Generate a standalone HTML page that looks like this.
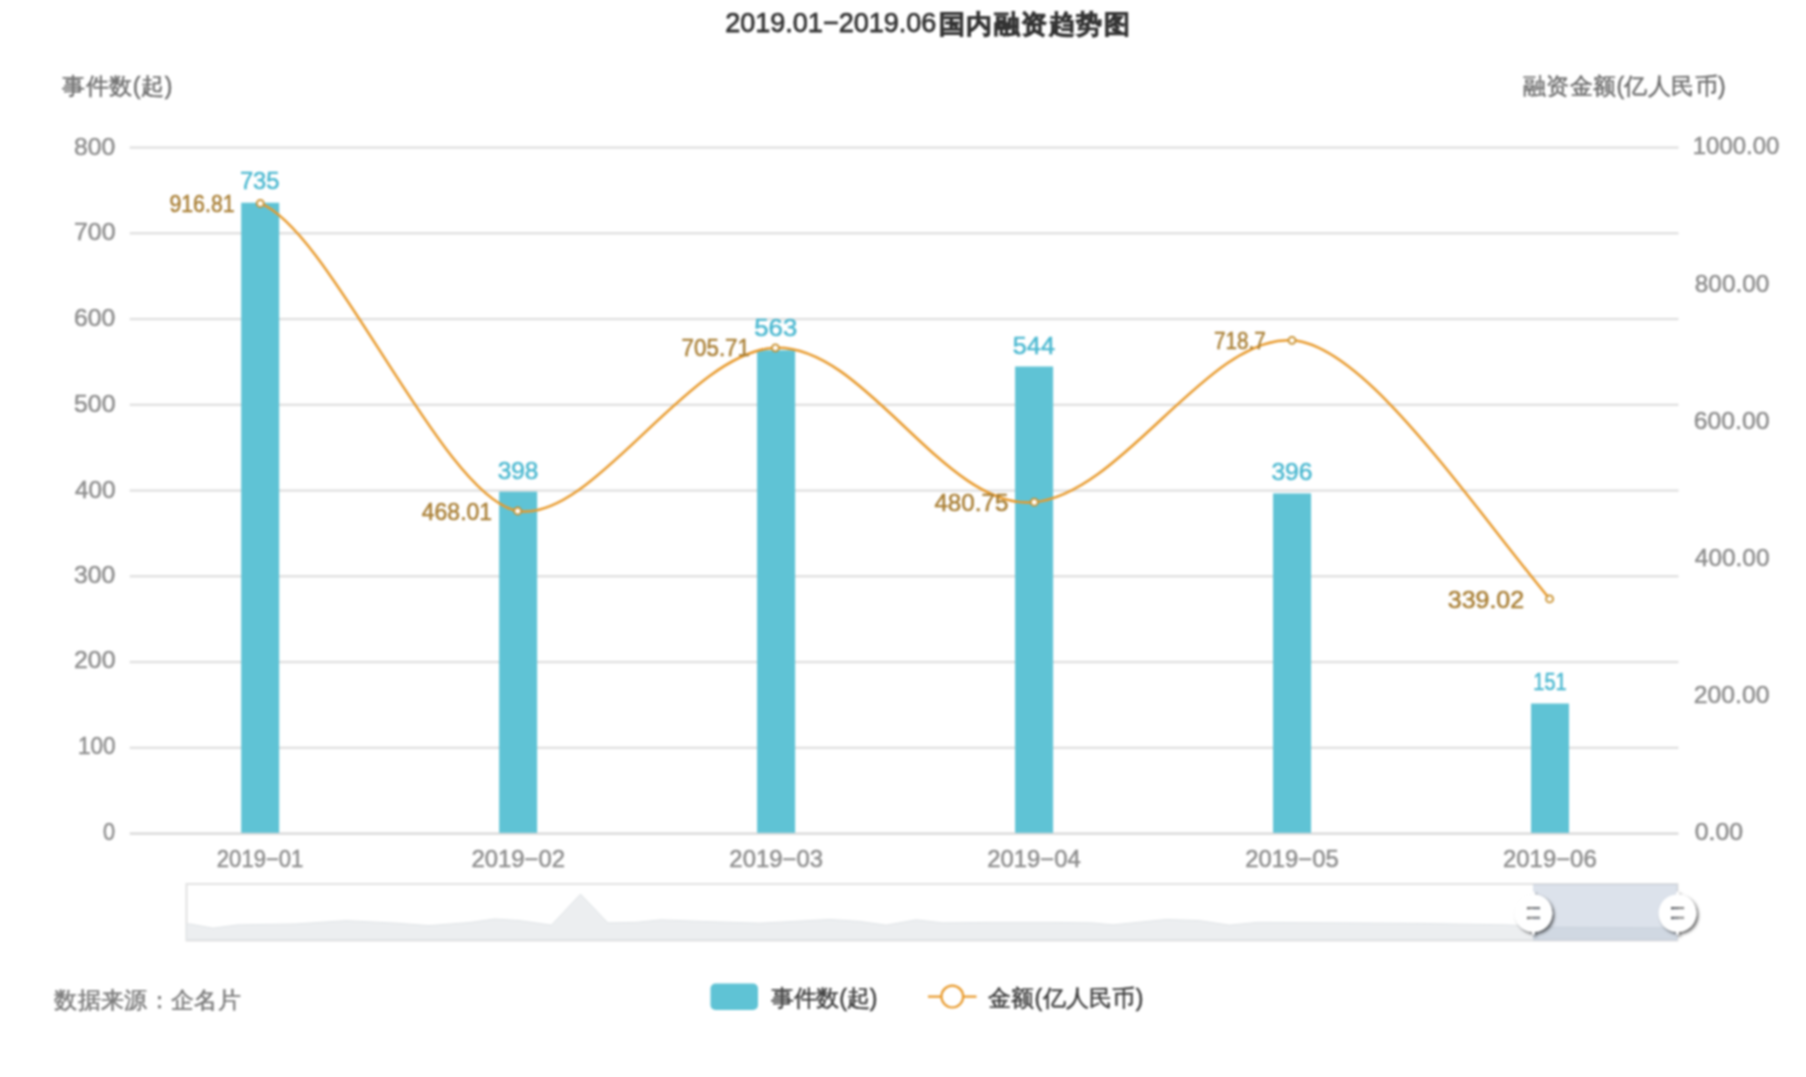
<!DOCTYPE html>
<html><head><meta charset="utf-8"><style>html,body{margin:0;padding:0;background:#fff;overflow:hidden}svg{display:block;filter:blur(0.8px)}</style></head>
<body>
<svg width="1806" height="1077" viewBox="0 0 1806 1077">
<defs><filter id="sh" x="-50%" y="-50%" width="200%" height="200%"><feDropShadow dx="2" dy="2" stdDeviation="1.6" flood-color="#000" flood-opacity="0.6"/></filter></defs>
<rect width="1806" height="1077" fill="#fff"/>
<rect x="129.7" y="832.50" width="1548.8" height="2.2" fill="#d6d6d6"/>
<rect x="129.7" y="746.65" width="1548.8" height="2.3" fill="#dfdfdf"/>
<rect x="129.7" y="660.90" width="1548.8" height="2.3" fill="#dfdfdf"/>
<rect x="129.7" y="575.15" width="1548.8" height="2.3" fill="#dfdfdf"/>
<rect x="129.7" y="489.40" width="1548.8" height="2.3" fill="#dfdfdf"/>
<rect x="129.7" y="403.65" width="1548.8" height="2.3" fill="#dfdfdf"/>
<rect x="129.7" y="317.90" width="1548.8" height="2.3" fill="#dfdfdf"/>
<rect x="129.7" y="232.15" width="1548.8" height="2.3" fill="#dfdfdf"/>
<rect x="129.7" y="146.40" width="1548.8" height="2.3" fill="#dfdfdf"/>
<rect x="241.19" y="202.74" width="38" height="630.06" fill="#5fc3d5"/>
<rect x="499.15" y="491.71" width="38" height="341.08" fill="#5fc3d5"/>
<rect x="757.12" y="350.23" width="38" height="482.57" fill="#5fc3d5"/>
<rect x="1015.10" y="366.52" width="38" height="466.28" fill="#5fc3d5"/>
<rect x="1273.07" y="493.43" width="38" height="339.37" fill="#5fc3d5"/>
<rect x="1531.04" y="703.52" width="38" height="129.28" fill="#5fc3d5"/>
<path d="M260.30,203.40 C331.36,230.54 442.96,498.89 517.70,511.00 C592.33,523.09 688.86,350.83 775.40,347.80 C865.42,344.65 944.32,510.82 1034.30,502.20 C1122.48,493.76 1208.27,335.08 1292.00,340.30 C1364.36,344.81 1465.49,497.04 1549.60,598.90" fill="none" stroke="#e89a2c" stroke-width="2.5"/>
<circle cx="260.30" cy="203.40" r="3.5" fill="#fffaf0" stroke="#c8902f" stroke-width="1.8"/>
<circle cx="517.70" cy="511.00" r="3.5" fill="#fffaf0" stroke="#c8902f" stroke-width="1.8"/>
<circle cx="775.40" cy="347.80" r="3.5" fill="#fffaf0" stroke="#c8902f" stroke-width="1.8"/>
<circle cx="1034.30" cy="502.20" r="3.5" fill="#fffaf0" stroke="#c8902f" stroke-width="1.8"/>
<circle cx="1292.00" cy="340.30" r="3.5" fill="#fffaf0" stroke="#c8902f" stroke-width="1.8"/>
<circle cx="1549.60" cy="598.90" r="3.5" fill="#fffaf0" stroke="#c8902f" stroke-width="1.8"/>
<rect x="186.5" y="884" width="1491.0" height="56.5" fill="#fff" stroke="#e2e2e2" stroke-width="2"/>
<path d="M186.5,924 L190,924 L213,928.2 L238,924.9 L296,924 L346,920.7 L396,923.2 L429,925.7 L470,922.5 L494.9,919 L519.8,920.7 L551.4,925.2 L580.5,894.1 L607.9,922.9 L636,922.4 L661,919.9 L702.6,921.5 L760,923.2 L793.2,921.5 L829.8,919.5 L859.7,921.5 L886.2,925.2 L916.1,919.9 L942.7,922.9 L992.6,922.4 L1050,922.4 L1091.5,922.9 L1113.1,924.9 L1166.3,919.5 L1199.5,920.7 L1229.4,925.2 L1257.6,922.4 L1349,922.9 L1423,923.5 L1506,924.9 L1556,927.3 L1639,927.8 L1677.5,928 L1677.5,939.5 L186.5,939.5 Z" fill="#eceef0" stroke="#dfe3e6" stroke-width="1"/>
<rect x="1533" y="884" width="144.5" height="56.5" fill="rgba(167,183,204,0.4)"/>
<g filter="url(#sh)"><path transform="translate(1513.50,870.60) scale(2.0)" d="M10.7,11.9v-1.3H9.3v1.3c-4.9,0.3-8.8,4.4-8.8,9.4c0,5,3.9,9.1,8.8,9.4v1.3h1.3v-1.3c4.9-0.3,8.8-4.4,8.8-9.4C19.5,16.3,15.6,12.2,10.7,11.9z M13.3,24.4H6.7V23h6.6V24.4z M13.3,19.6H6.7v-1.4h6.6V19.6z" fill="#fff" fill-rule="evenodd"/></g>
<g filter="url(#sh)"><path transform="translate(1657.60,870.60) scale(2.0)" d="M10.7,11.9v-1.3H9.3v1.3c-4.9,0.3-8.8,4.4-8.8,9.4c0,5,3.9,9.1,8.8,9.4v1.3h1.3v-1.3c4.9-0.3,8.8-4.4,8.8-9.4C19.5,16.3,15.6,12.2,10.7,11.9z M13.3,24.4H6.7V23h6.6V24.4z M13.3,19.6H6.7v-1.4h6.6V19.6z" fill="#fff" fill-rule="evenodd"/></g>
<rect x="710.5" y="983.5" width="47.5" height="26.5" rx="5" fill="#5fc3d5"/>
<line x1="928" y1="996.6" x2="976.5" y2="996.6" stroke="#e89a2c" stroke-width="2.2"/>
<circle cx="952.3" cy="996.6" r="10.9" fill="#fff" stroke="#e89a2c" stroke-width="2.2"/>
<g font-family="'Liberation Sans', sans-serif">
<text id="t0" x="725.20" y="31.78" text-anchor="start" font-size="28" fill="#333333" stroke="#333333" stroke-width="0.75" textLength="211.21" lengthAdjust="spacingAndGlyphs">2019.01−2019.06</text>
<text id="t1" x="939.00" y="32.53" text-anchor="start" font-size="25.6" fill="#333333" font-weight="bold" stroke="#333333" stroke-width="0.7" textLength="190.61" lengthAdjust="spacing">国内融资趋势图</text>
<text id="t2" x="62.00" y="94.14" text-anchor="start" font-size="23" fill="#707070" stroke="#707070" stroke-width="0.5" textLength="110.37" lengthAdjust="spacing">事件数(起)</text>
<text id="t3" x="1523.00" y="93.74" text-anchor="start" font-size="23" fill="#707070" stroke="#707070" stroke-width="0.5" textLength="202.55" lengthAdjust="spacing">融资金额(亿人民币)</text>
<text id="t4" x="103.00" y="840.36" text-anchor="start" font-size="23.5" fill="#8e8e8e" stroke="#8e8e8e" stroke-width="0.5" textLength="12.08" lengthAdjust="spacingAndGlyphs">0</text>
<text id="t5" x="78.00" y="754.40" text-anchor="start" font-size="23.5" fill="#8e8e8e" stroke="#8e8e8e" stroke-width="0.5" textLength="37.62" lengthAdjust="spacingAndGlyphs">100</text>
<text id="t6" x="74.00" y="668.43" text-anchor="start" font-size="23.5" fill="#8e8e8e" stroke="#8e8e8e" stroke-width="0.5" textLength="41.46" lengthAdjust="spacingAndGlyphs">200</text>
<text id="t7" x="74.00" y="583.47" text-anchor="start" font-size="23.5" fill="#8e8e8e" stroke="#8e8e8e" stroke-width="0.5" textLength="41.31" lengthAdjust="spacingAndGlyphs">300</text>
<text id="t8" x="75.00" y="497.51" text-anchor="start" font-size="23.5" fill="#8e8e8e" stroke="#8e8e8e" stroke-width="0.5" textLength="40.64" lengthAdjust="spacingAndGlyphs">400</text>
<text id="t9" x="74.00" y="411.55" text-anchor="start" font-size="23.5" fill="#8e8e8e" stroke="#8e8e8e" stroke-width="0.5" textLength="41.46" lengthAdjust="spacingAndGlyphs">500</text>
<text id="t10" x="74.00" y="325.59" text-anchor="start" font-size="23.5" fill="#8e8e8e" stroke="#8e8e8e" stroke-width="0.5" textLength="41.31" lengthAdjust="spacingAndGlyphs">600</text>
<text id="t11" x="74.00" y="239.62" text-anchor="start" font-size="23.5" fill="#8e8e8e" stroke="#8e8e8e" stroke-width="0.5" textLength="41.46" lengthAdjust="spacingAndGlyphs">700</text>
<text id="t12" x="74.00" y="154.66" text-anchor="start" font-size="23.5" fill="#8e8e8e" stroke="#8e8e8e" stroke-width="0.5" textLength="41.31" lengthAdjust="spacingAndGlyphs">800</text>
<text id="t13" x="1694.80" y="840.36" text-anchor="start" font-size="23.5" fill="#8e8e8e" stroke="#8e8e8e" stroke-width="0.5" textLength="48.31" lengthAdjust="spacingAndGlyphs">0.00</text>
<text id="t14" x="1693.80" y="702.74" text-anchor="start" font-size="23.5" fill="#8e8e8e" stroke="#8e8e8e" stroke-width="0.5" textLength="75.71" lengthAdjust="spacingAndGlyphs">200.00</text>
<text id="t15" x="1694.80" y="566.12" text-anchor="start" font-size="23.5" fill="#8e8e8e" stroke="#8e8e8e" stroke-width="0.5" textLength="74.69" lengthAdjust="spacingAndGlyphs">400.00</text>
<text id="t16" x="1693.80" y="428.50" text-anchor="start" font-size="23.5" fill="#8e8e8e" stroke="#8e8e8e" stroke-width="0.5" textLength="75.67" lengthAdjust="spacingAndGlyphs">600.00</text>
<text id="t17" x="1694.80" y="291.88" text-anchor="start" font-size="23.5" fill="#8e8e8e" stroke="#8e8e8e" stroke-width="0.5" textLength="74.63" lengthAdjust="spacingAndGlyphs">800.00</text>
<text id="t18" x="1692.80" y="154.26" text-anchor="start" font-size="23.5" fill="#8e8e8e" stroke="#8e8e8e" stroke-width="0.5" textLength="86.50" lengthAdjust="spacingAndGlyphs">1000.00</text>
<text id="t19" x="216.85" y="867.46" text-anchor="start" font-size="23.5" fill="#8e8e8e" stroke="#8e8e8e" stroke-width="0.5" textLength="86.50" lengthAdjust="spacingAndGlyphs">2019−01</text>
<text id="t20" x="471.48" y="867.46" text-anchor="start" font-size="23.5" fill="#8e8e8e" stroke="#8e8e8e" stroke-width="0.5" textLength="93.65" lengthAdjust="spacingAndGlyphs">2019−02</text>
<text id="t21" x="729.38" y="867.46" text-anchor="start" font-size="23.5" fill="#8e8e8e" stroke="#8e8e8e" stroke-width="0.5" textLength="93.59" lengthAdjust="spacingAndGlyphs">2019−03</text>
<text id="t22" x="987.27" y="867.46" text-anchor="start" font-size="23.5" fill="#8e8e8e" stroke="#8e8e8e" stroke-width="0.5" textLength="93.62" lengthAdjust="spacingAndGlyphs">2019−04</text>
<text id="t23" x="1245.16" y="867.46" text-anchor="start" font-size="23.5" fill="#8e8e8e" stroke="#8e8e8e" stroke-width="0.5" textLength="93.62" lengthAdjust="spacingAndGlyphs">2019−05</text>
<text id="t24" x="1503.05" y="867.46" text-anchor="start" font-size="23.5" fill="#8e8e8e" stroke="#8e8e8e" stroke-width="0.5" textLength="93.64" lengthAdjust="spacingAndGlyphs">2019−06</text>
<text id="t25" x="239.90" y="189.02" text-anchor="start" font-size="23.5" fill="#4bb8d0" stroke="#4bb8d0" stroke-width="0.5" textLength="39.65" lengthAdjust="spacingAndGlyphs">735</text>
<text id="t26" x="497.68" y="478.86" text-anchor="start" font-size="23.5" fill="#4bb8d0" stroke="#4bb8d0" stroke-width="0.5" textLength="40.72" lengthAdjust="spacingAndGlyphs">398</text>
<text id="t27" x="754.28" y="336.45" text-anchor="start" font-size="23.5" fill="#4bb8d0" stroke="#4bb8d0" stroke-width="0.5" textLength="42.95" lengthAdjust="spacingAndGlyphs">563</text>
<text id="t28" x="1012.87" y="353.50" text-anchor="start" font-size="23.5" fill="#4bb8d0" stroke="#4bb8d0" stroke-width="0.5" textLength="42.06" lengthAdjust="spacingAndGlyphs">544</text>
<text id="t29" x="1271.41" y="479.87" text-anchor="start" font-size="23.5" fill="#4bb8d0" stroke="#4bb8d0" stroke-width="0.5" textLength="41.10" lengthAdjust="spacingAndGlyphs">396</text>
<text id="t30" x="1533.35" y="690.48" text-anchor="start" font-size="23.5" fill="#4bb8d0" stroke="#4bb8d0" stroke-width="0.5" textLength="33.30" lengthAdjust="spacingAndGlyphs">151</text>
<text id="t31" x="169.40" y="212.36" text-anchor="start" font-size="23.5" fill="#a97f35" stroke="#a97f35" stroke-width="0.5" textLength="65.23" lengthAdjust="spacingAndGlyphs">916.81</text>
<text id="t32" x="421.80" y="519.56" text-anchor="start" font-size="23.5" fill="#a97f35" stroke="#a97f35" stroke-width="0.5" textLength="70.31" lengthAdjust="spacingAndGlyphs">468.01</text>
<text id="t33" x="681.60" y="356.16" text-anchor="start" font-size="23.5" fill="#a97f35" stroke="#a97f35" stroke-width="0.5" textLength="68.40" lengthAdjust="spacingAndGlyphs">705.71</text>
<text id="t34" x="934.40" y="510.96" text-anchor="start" font-size="23.5" fill="#a97f35" stroke="#a97f35" stroke-width="0.5" textLength="74.00" lengthAdjust="spacingAndGlyphs">480.75</text>
<text id="t35" x="1214.00" y="349.16" text-anchor="start" font-size="23.5" fill="#a97f35" stroke="#a97f35" stroke-width="0.5" textLength="51.67" lengthAdjust="spacingAndGlyphs">718.7</text>
<text id="t36" x="1447.80" y="607.86" text-anchor="start" font-size="23.5" fill="#a97f35" stroke="#a97f35" stroke-width="0.5" textLength="76.28" lengthAdjust="spacingAndGlyphs">339.02</text>
<text id="t37" x="770.60" y="1005.74" text-anchor="start" font-size="23" fill="#404040" stroke="#404040" stroke-width="0.5" textLength="106.89" lengthAdjust="spacing">事件数(起)</text>
<text id="t38" x="988.00" y="1006.04" text-anchor="start" font-size="23" fill="#404040" stroke="#404040" stroke-width="0.5" textLength="155.36" lengthAdjust="spacing">金额(亿人民币)</text>
<text id="t39" x="54.20" y="1008.40" text-anchor="start" font-size="22.5" fill="#7c7c7c" stroke="#7c7c7c" stroke-width="0.5" textLength="186.45" lengthAdjust="spacing">数据来源：企名片</text>
</g>
</svg>
</body></html>
